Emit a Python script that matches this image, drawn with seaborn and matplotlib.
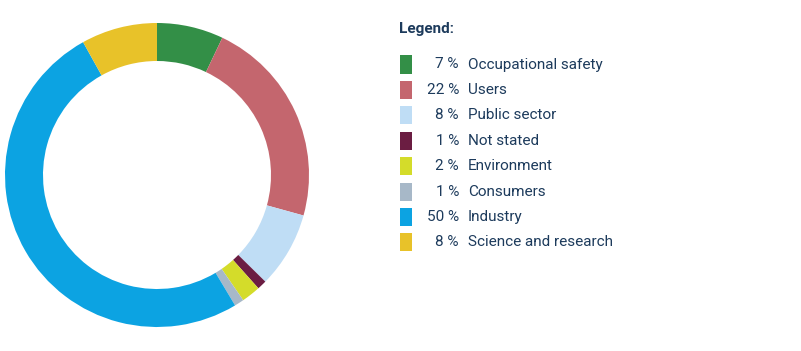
import matplotlib
matplotlib.use("Agg")
import matplotlib.pyplot as plt
import matplotlib.patches as mpatches
import seaborn as sns

# data
categories = ["Occupational safety", "Users", "Public sector", "Not stated",
              "Environment", "Consumers", "Industry", "Science and research"]
shares = [7, 22, 8, 1, 2, 1, 50, 8]
colors = ["#338F47", "#C4666E", "#BFDDF5", "#6B1D42",
          "#D4DC2A", "#A7B8C8", "#0CA3E2", "#E8C229"]

sns.set_theme(style="white")
plt.rcParams["font.family"] = ["Roboto", "DejaVu Sans"]
text_color = "#1D3B5C"

W, H = 801, 351
fig = plt.figure(figsize=(W / 100, H / 100), dpi=100)

# donut
ax = fig.add_axes([5 / W, (H - 327) / H, 304 / W, 304 / H])
ax.pie(shares, colors=colors, startangle=90, counterclock=False,
       wedgeprops=dict(width=0.25, linewidth=0))
ax.set_xlim(-1, 1)
ax.set_ylim(-1, 1)
ax.set_aspect("equal")
ax.axis("off")

# legend
fig.text(399 / W, 1 - 29 / H, "Legend:", color=text_color, fontsize=11,
         fontweight="bold", va="center", ha="left")
row_y = 64.5
for cat, val, col in zip(categories, shares, colors):
    y = 1 - row_y / H
    fig.patches.append(mpatches.Rectangle((400 / W, y - 9 / H), 12 / W, 18 / H,
                                          transform=fig.transFigure,
                                          facecolor=col, edgecolor="none"))
    fig.text(459 / W, y, f"{val} %", color=text_color, fontsize=11,
             va="center", ha="right")
    fig.text(468 / W, y, cat, color=text_color, fontsize=11,
             va="center", ha="left")
    row_y += 25.4

fig.savefig("out.png", dpi=100, facecolor="white")
